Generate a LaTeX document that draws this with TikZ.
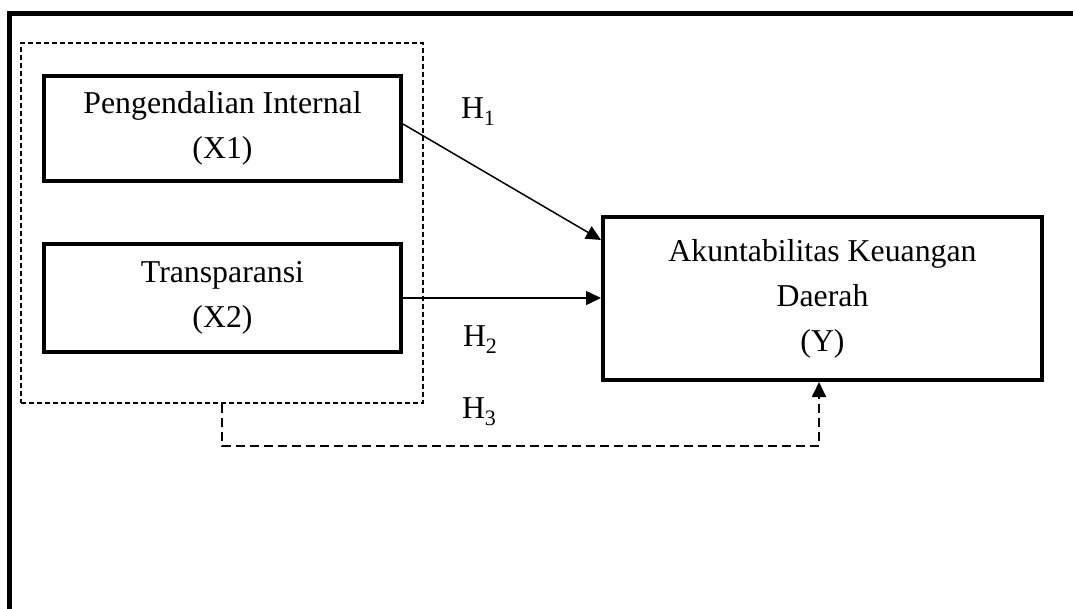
\documentclass[tikz,border=0pt]{standalone}
\usepackage{fontspec}
\setmainfont{Liberation Serif}
\usetikzlibrary{arrows.meta}
\begin{document}
\begin{tikzpicture}[x=1pt,y=-1pt,
  varbox/.style={draw,line width=4pt,align=center,inner sep=0pt,
    font=\fontsize{31.8}{45}\selectfont},
  grpbox/.style={draw,line width=1.2pt,dash pattern=on 5pt off 3pt,inner sep=0pt},
  arr/.style={line width=1.5pt,-{Triangle[length=15pt,width=14pt]}},
  darr/.style={line width=1.8pt,dash pattern=on 9pt off 5pt,-{Triangle[length=15pt,width=14pt]}},
  hlab/.style={font=\fontsize{31.8}{36}\selectfont,inner sep=0pt}
]
\useasboundingbox (0,0) rectangle (1073,608);
\coordinate (ftr) at (1076,13);
\coordinate (ftl) at (9,13);
\coordinate (fbl) at (9,612);
\draw[line width=5pt] (ftr) -- (ftl) -- (fbl);
\node[grpbox,minimum width=402pt,minimum height=360pt] (grp) at (222,223) {};
\node[varbox,minimum width=357pt,minimum height=105pt] (x1) at (222.5,128.5)
  {Pengendalian Internal\\(X1)};
\node[varbox,minimum width=357pt,minimum height=108pt] (x2) at (222.5,298)
  {Transparansi\\(X2)};
\node[varbox,minimum width=439pt,minimum height=163pt] (y) at (822.5,298.5)
  {Akuntabilitas Keuangan\\Daerah\\(Y)};
\draw[arr] ([yshift=4.5pt]x1.east) -- ([yshift=-25pt]y.north west);
\draw[arr] (x2.east) -- (y.west |- x2.east);
\draw[darr] (grp.south) -- ++(0,42) -| ([xshift=-3.5pt]y.south);
\node[hlab] (h1) at (478,112) {H\raisebox{-0.22em}{\fontsize{22}{24}\selectfont 1}};
\node[hlab] (h2) at (480,340) {H\raisebox{-0.22em}{\fontsize{22}{24}\selectfont 2}};
\node[hlab] (h3) at (479,412) {H\raisebox{-0.22em}{\fontsize{22}{24}\selectfont 3}};
\end{tikzpicture}
\end{document}
